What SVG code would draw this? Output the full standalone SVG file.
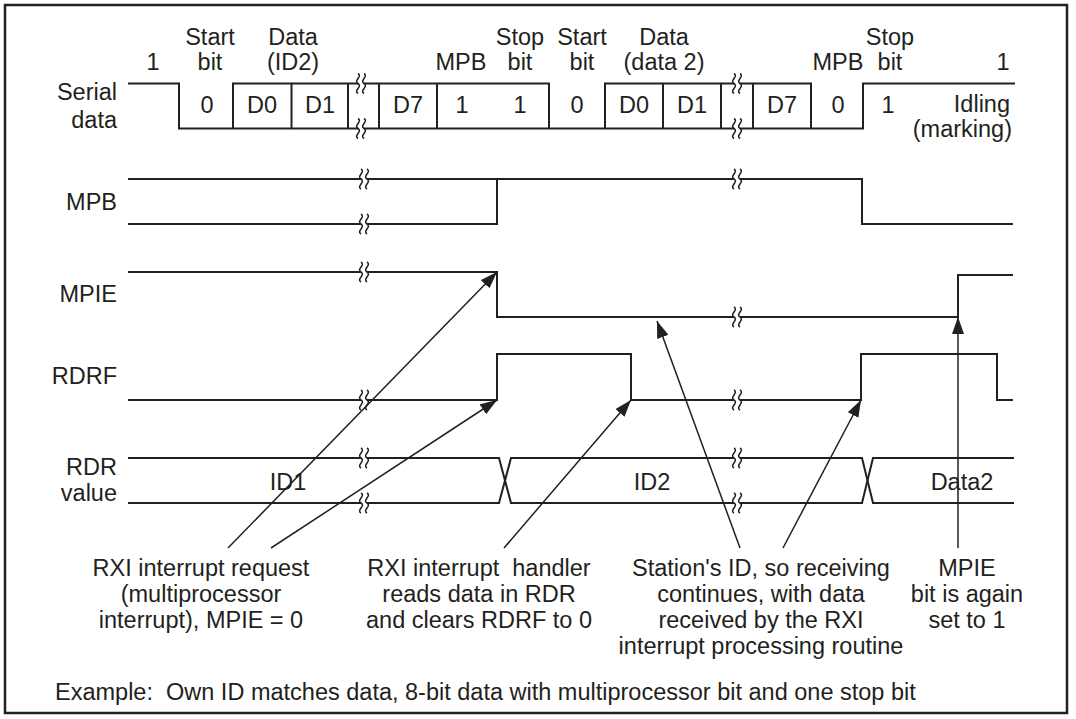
<svg xmlns="http://www.w3.org/2000/svg" xmlns:xlink="http://www.w3.org/1999/xlink" width="1076" height="719" viewBox="0 0 1076 719">
<style>
.ln{fill:none;stroke:#231f20;stroke-width:2;stroke-linejoin:miter}
.ar{fill:none;stroke:#231f20;stroke-width:1.5;marker-end:url(#ah)}
text{font-family:"Liberation Sans",Arial,Helvetica,sans-serif;font-size:23.5px;fill:#231f20}
.m{text-anchor:middle}
.r{text-anchor:end}
</style>
<defs>
<marker id="ah" viewBox="0 0 17 12" refX="17" refY="6" markerWidth="17" markerHeight="12" markerUnits="userSpaceOnUse" orient="auto">
<path d="M0,0 L17,6 L0,12 z" fill="#231f20"/>
</marker>
<g id="brk">
<rect x="-3" y="-4" width="6" height="8" fill="#fff"/>
<path d="M-3,-10 C2,-7 -8,-3 -3,0 C2,3 -8,7 -3,10 M3,-10 C8,-7 -2,-3 3,0 C8,3 -2,7 3,10" fill="none" stroke="#231f20" stroke-width="1.5"/>
</g>
</defs>
<rect width="1076" height="719" fill="#fff"/>
<g id="frame"><rect x="5" y="5" width="1062" height="708" fill="none" stroke="#231f20" stroke-width="2.5"/></g>

<g id="header-labels">
<text class="m" x="153" y="70">1</text>
<text class="m" x="210" y="45">Start</text><text class="m" x="210" y="70">bit</text>
<text class="m" x="293" y="45">Data</text><text class="m" x="293" y="70">(ID2)</text>
<text class="m" x="461" y="70">MPB</text>
<text class="m" x="520" y="45">Stop</text><text class="m" x="520" y="70">bit</text>
<text class="m" x="582" y="45">Start</text><text class="m" x="582" y="70">bit</text>
<text class="m" x="664" y="45">Data</text><text class="m" x="664" y="70">(data 2)</text>
<text class="m" x="838" y="70">MPB</text>
<text class="m" x="890" y="45">Stop</text><text class="m" x="890" y="70">bit</text>
<text class="m" x="1003" y="70">1</text>
</g>

<g id="row-labels">
<text class="r" x="117" y="100">Serial</text><text class="r" x="117" y="128">data</text>
<text class="r" x="117" y="210">MPB</text>
<text class="r" x="117" y="302">MPIE</text>
<text class="r" x="117" y="384">RDRF</text>
<text class="r" x="117" y="475">RDR</text><text class="r" x="117" y="501">value</text>
</g>

<g id="serial-data">
<path class="ln" d="M128,83.5 H179 V128.5 H863 V83.5 H1015"/>
<path class="ln" d="M233,128.5 V83.5 H549 V128.5 M605,128.5 V83.5 H811 V128.5"/>
<path class="ln" d="M291.5,83.5 V128.5 M348,83.5 V128.5 M379,83.5 V128.5 M437,83.5 V128.5 M663,83.5 V128.5 M721,83.5 V128.5 M753,83.5 V128.5"/>
<use xlink:href="#brk" x="361" y="83.5"/><use xlink:href="#brk" x="361" y="128.5"/>
<use xlink:href="#brk" x="737" y="83.5"/><use xlink:href="#brk" x="737" y="128.5"/>
<text class="m" x="207" y="113">0</text>
<text class="m" x="262" y="113">D0</text>
<text class="m" x="320" y="113">D1</text>
<text class="m" x="408" y="113">D7</text>
<text class="m" x="462" y="113">1</text>
<text class="m" x="520" y="113">1</text>
<text class="m" x="577" y="113">0</text>
<text class="m" x="634" y="113">D0</text>
<text class="m" x="692" y="113">D1</text>
<text class="m" x="782" y="113">D7</text>
<text class="m" x="838" y="113">0</text>
<text class="m" x="888" y="113">1</text>
<text class="r" x="1010" y="112">Idling</text>
<text class="r" x="1012" y="137">(marking)</text>
</g>

<g id="mpb">
<path class="ln" d="M128,179 H862 V224 H1013 M128,224 H497 V179"/>
<use xlink:href="#brk" x="364" y="179"/><use xlink:href="#brk" x="364" y="224"/>
<use xlink:href="#brk" x="737" y="179"/>
</g>

<g id="mpie">
<path class="ln" d="M128,272 H497 V317 H958 V275 H1013"/>
<use xlink:href="#brk" x="364" y="272"/>
<use xlink:href="#brk" x="737" y="317"/>
</g>

<g id="rdrf">
<path class="ln" d="M128,400 H497 V354 H631 V400 H861 V354 H997 V400 H1013"/>
<use xlink:href="#brk" x="364" y="400"/>
<use xlink:href="#brk" x="737" y="400"/>
</g>

<g id="rdr">
<path class="ln" d="M128,458 H499 L511,503 H862 L873,458 H1014"/>
<path class="ln" d="M128,503 H499 L511,458 H862 L873,503 H1014"/>
<use xlink:href="#brk" x="364" y="458"/><use xlink:href="#brk" x="364" y="503"/>
<use xlink:href="#brk" x="737" y="458"/><use xlink:href="#brk" x="737" y="503"/>
<text class="m" x="288" y="490">ID1</text>
<text class="m" x="652" y="490">ID2</text>
<text class="m" x="962" y="490">Data2</text>
</g>

<g id="connectors">
<line class="ar" x1="228" y1="548" x2="497" y2="272"/>
<line class="ar" x1="271" y1="548" x2="497" y2="400"/>
<line class="ar" x1="504" y1="548" x2="631" y2="400"/>
<line class="ar" x1="740" y1="548" x2="657" y2="321"/>
<line class="ar" x1="783" y1="548" x2="861" y2="400"/>
<line class="ar" x1="958" y1="548" x2="958" y2="317"/>
</g>

<g id="note-rxi-request">
<text class="m" x="201" y="576">RXI interrupt request</text>
<text class="m" x="201" y="602">(multiprocessor</text>
<text class="m" x="201" y="628">interrupt), MPIE = 0</text>
</g>
<g id="note-rxi-handler">
<text class="m" x="479" y="576" xml:space="preserve">RXI interrupt  handler</text>
<text class="m" x="479" y="602">reads data in RDR</text>
<text class="m" x="479" y="628">and clears RDRF to 0</text>
</g>
<g id="note-station">
<text class="m" x="761" y="576">Station's ID, so receiving</text>
<text class="m" x="761" y="602">continues, with data</text>
<text class="m" x="761" y="628">received by the RXI</text>
<text class="m" x="761" y="654">interrupt processing routine</text>
</g>
<g id="note-mpie">
<text class="m" x="967" y="576">MPIE</text>
<text class="m" x="967" y="602">bit is again</text>
<text class="m" x="967" y="628">set to 1</text>
</g>
<g id="footer">
<text x="55" y="700" xml:space="preserve">Example:  Own ID matches data, 8-bit data with multiprocessor bit and one stop bit</text>
</g>
</svg>
